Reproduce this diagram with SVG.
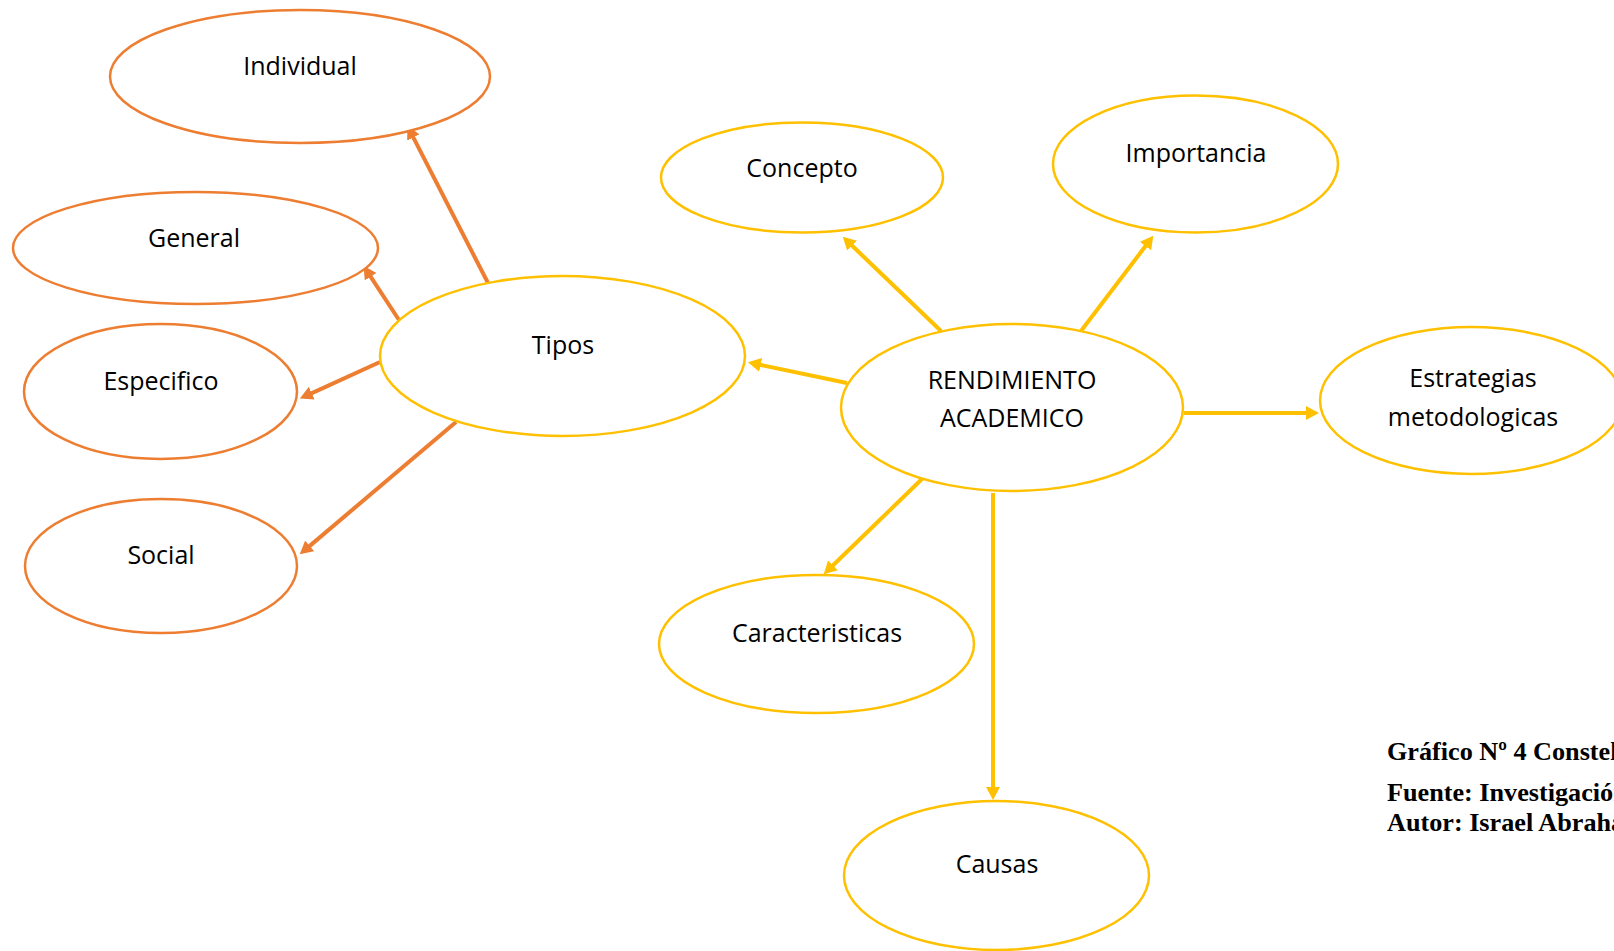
<svg xmlns="http://www.w3.org/2000/svg" width="1614" height="951" viewBox="0 0 1614 951">
<style>
.o{fill:#fff;stroke:#ED7D31;stroke-width:2.5}
.y{fill:#fff;stroke:#FFC000;stroke-width:2.5}
.t{font-family:"Open Sans","Noto Sans","Liberation Sans",sans-serif;font-size:25px;fill:#000;text-anchor:middle}
.lo{stroke:#ED7D31;stroke-width:4;fill:none}
.ly{stroke:#FFC000;stroke-width:4;fill:none}
.cap{font-family:"Liberation Serif","Times New Roman",serif;font-weight:bold;font-size:26.2px;fill:#000}
</style>
<defs>
<marker id="ao" viewBox="0 -7 13 14" markerWidth="13" markerHeight="14" refX="1" refY="0" orient="auto" markerUnits="userSpaceOnUse"><path d="M0,-7 L13,0 L0,7 z" fill="#ED7D31"/></marker>
<marker id="ay" viewBox="0 -7 13 14" markerWidth="13" markerHeight="14" refX="1" refY="0" orient="auto" markerUnits="userSpaceOnUse"><path d="M0,-7 L13,0 L0,7 z" fill="#FFC000"/></marker>
</defs>
<rect width="1614" height="951" fill="#fff"/>
<g id="connectors">
<line class="lo" x1="488" y1="283" x2="412.9" y2="136.6" marker-end="url(#ao)"/>
<line class="lo" x1="399" y1="320" x2="370.1" y2="275.9" marker-end="url(#ao)"/>
<line class="lo" x1="380" y1="362" x2="310.8" y2="393.6" marker-end="url(#ao)"/>
<line class="lo" x1="456" y1="422" x2="308.9" y2="546.6" marker-end="url(#ao)"/>
<line class="ly" x1="847" y1="383" x2="759.7" y2="364.7" marker-end="url(#ay)"/>
<line class="ly" x1="941" y1="331" x2="851.4" y2="245" marker-end="url(#ay)"/>
<line class="ly" x1="1081" y1="331" x2="1146.1" y2="245.3" marker-end="url(#ay)"/>
<line class="ly" x1="1184" y1="413" x2="1307" y2="413" marker-end="url(#ay)"/>
<line class="ly" x1="923" y1="478" x2="832.3" y2="566" marker-end="url(#ay)"/>
<line class="ly" x1="993" y1="493" x2="993" y2="788" marker-end="url(#ay)"/>
</g>
<g id="individual"><ellipse class="o" cx="300" cy="76.5" rx="190" ry="66.5"/><text class="t" x="300" y="75">Individual</text></g>
<g id="general"><ellipse class="o" cx="195.5" cy="248" rx="182.5" ry="56"/><text class="t" x="194" y="247">General</text></g>
<g id="especifico"><ellipse class="o" cx="160.5" cy="391.5" rx="136.5" ry="67.5"/><text class="t" x="161" y="390">Especifico</text></g>
<g id="social"><ellipse class="o" cx="161" cy="566" rx="136" ry="67"/><text class="t" x="161" y="564">Social</text></g>
<g id="tipos"><ellipse class="y" cx="562.5" cy="356" rx="182.5" ry="80"/><text class="t" x="563" y="354">Tipos</text></g>
<g id="rendimiento"><ellipse class="y" cx="1012" cy="407.5" rx="171" ry="83.5"/><text class="t" x="1012" y="389">RENDIMIENTO</text><text class="t" x="1012" y="427">ACADEMICO</text></g>
<g id="concepto"><ellipse class="y" cx="802" cy="177.5" rx="141" ry="55"/><text class="t" x="802" y="177">Concepto</text></g>
<g id="importancia"><ellipse class="y" cx="1195.5" cy="164" rx="142.5" ry="68.5"/><text class="t" x="1196" y="162">Importancia</text></g>
<g id="estrategias"><ellipse class="y" cx="1471" cy="400.5" rx="151" ry="73.5"/><text class="t" x="1473" y="387">Estrategias</text><text class="t" x="1473" y="426">metodologicas</text></g>
<g id="caracteristicas"><ellipse class="y" cx="816.5" cy="644" rx="157.5" ry="69"/><text class="t" x="817" y="642">Caracteristicas</text></g>
<g id="causas"><ellipse class="y" cx="996.5" cy="875.5" rx="152.5" ry="74.5"/><text class="t" x="997" y="873">Causas</text></g>
<g id="caption">
<text class="cap" x="1387" y="760">Gráfico Nº 4 Constelación</text>
<text class="cap" x="1387" y="801">Fuente: Investigación</text>
<text class="cap" x="1387" y="831">Autor: Israel Abraham</text>
</g>
</svg>
